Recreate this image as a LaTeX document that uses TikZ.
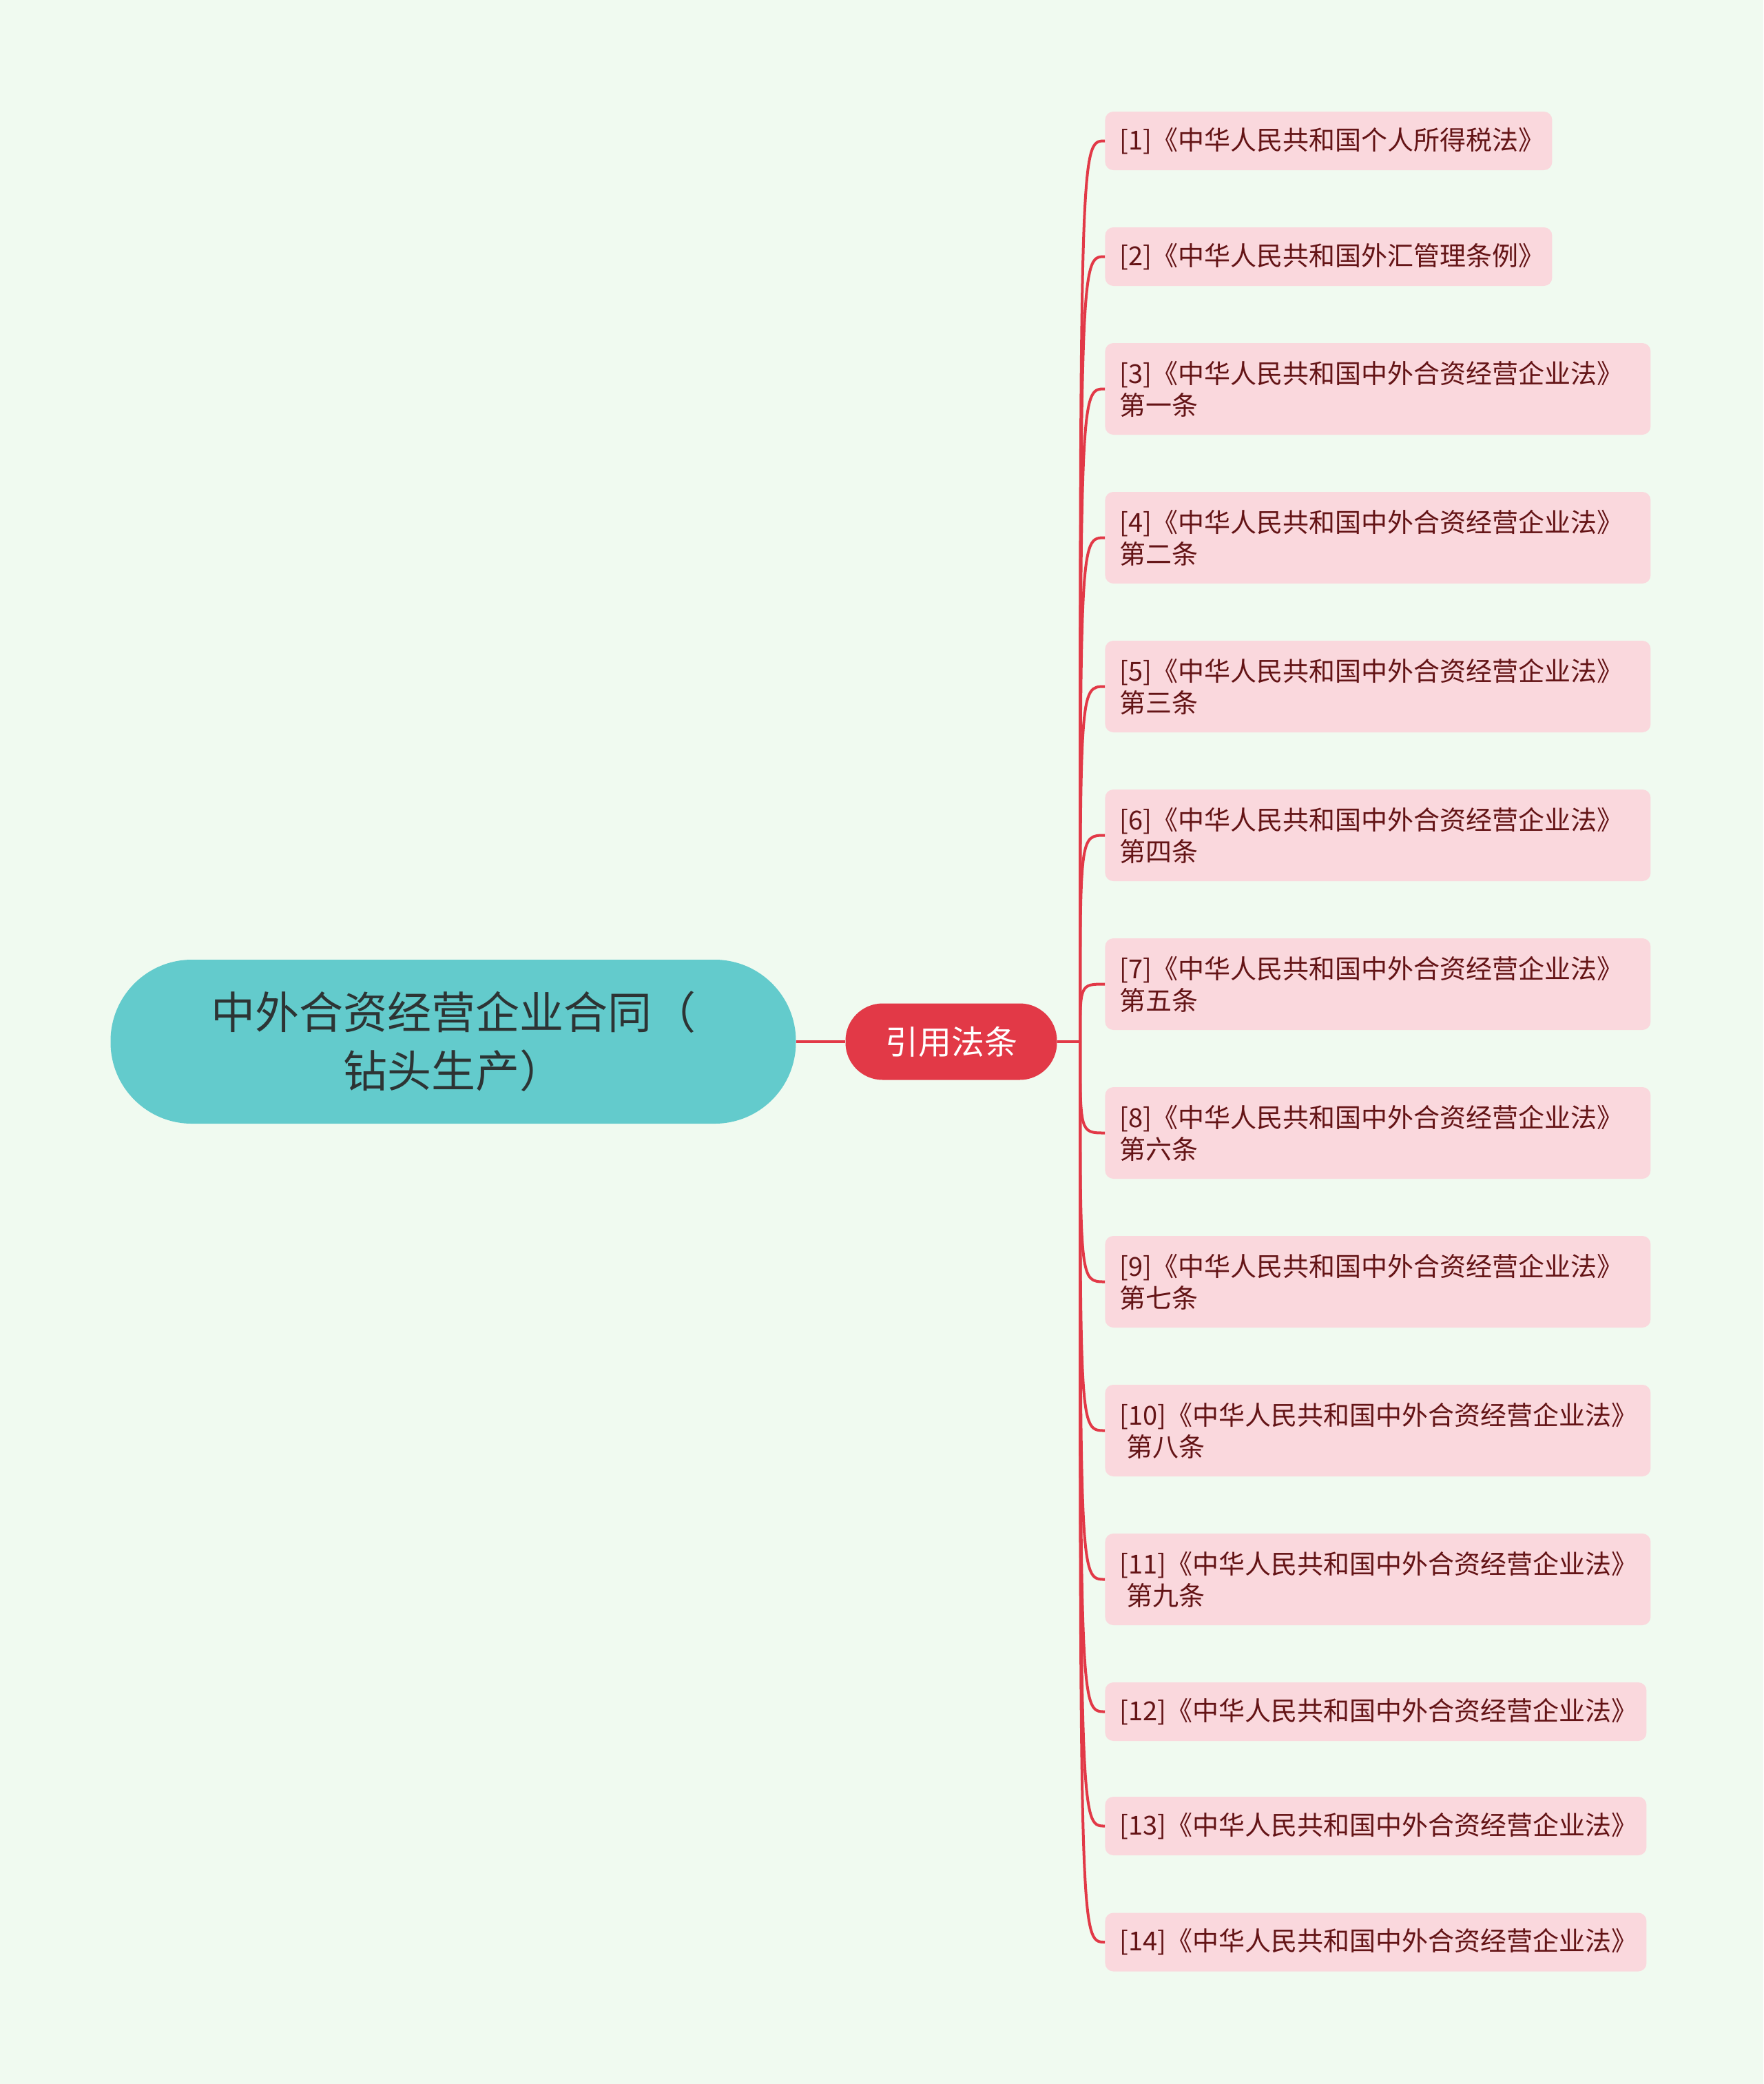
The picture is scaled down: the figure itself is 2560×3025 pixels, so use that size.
\documentclass[tikz,border=0pt]{standalone}
\usepackage{fontspec}
\setmainfont{Noto Sans CJK SC}
\usepackage{xcolor}
\usepackage{tikz}
\usetikzlibrary{positioning}

\definecolor{bgcol}{RGB}{240,250,240}
\definecolor{rootcol}{RGB}{99,203,204}
\definecolor{topiccol}{RGB}{226,57,71}
\definecolor{leafcol}{RGB}{250,216,221}
\definecolor{leaftext}{RGB}{100,20,22}
\definecolor{roottext}{RGB}{45,52,52}

\begin{document}
\begin{tikzpicture}[
        x=0.5pt, y=-0.5pt,
        wire/.style={
            draw=topiccol,
            line width=2pt
        },
        root/.style={
            fill=rootcol, rectangle,
            rounded corners=59pt,
            minimum width=497.5pt,
            minimum height=119pt,
            align=center,
            text=roottext,
            font=\fontsize{32}{42.5}\selectfont
        },
        topic/.style={
            fill=topiccol, rectangle,
            rounded corners=27pt,
            minimum width=153.5pt,
            minimum height=55.5pt,
            text=white,
            font=\fontsize{24}{28}\selectfont
        },
        leaf/.style={
            fill=leafcol, rectangle,
            rounded corners=6pt,
            anchor=west,
            inner xsep=10.5pt,
            inner ysep=2pt,
            align=left,
            text=leaftext,
            font=\fontsize{19}{23}\selectfont
        },
        short/.style={leaf, text width=303.5pt, minimum height=42.5pt},
        long/.style={leaf, text width=375pt, minimum height=66.5pt},
        single/.style={leaf, text width=372pt, minimum height=42.5pt},
    ]

    % background and page size
    \fill[bgcol] (0,0) rectangle (2560,3025);
    \useasboundingbox (0,0) rectangle (2560,3025);

    %============================================================
    % Root and topic
    %============================================================
    \node[root] (ROOT) at (658,1512) {中外合资经营企业合同（\\钻头生产）};
    \node[topic] (TOPIC) at (1381,1512) {引用法条};
    \coordinate (TRUNK) at (1568,1512);

    \draw[wire] (ROOT.east) -- (TOPIC.west);
    \draw[wire] (TOPIC.east) -- (TRUNK);

    %============================================================
    % Cited laws
    %============================================================
    \node[short] (LAW1) at (1604,204.5) {[1]《中华人民共和国个人所得税法》};
    \node[short] (LAW2) at (1604,372.5) {[2]《中华人民共和国外汇管理条例》};
    \node[long] (LAW3) at (1604,564.5) {[3]《中华人民共和国中外合资经营企业法》\\第一条};
    \node[long] (LAW4) at (1604,780.5) {[4]《中华人民共和国中外合资经营企业法》\\第二条};
    \node[long] (LAW5) at (1604,996.5) {[5]《中华人民共和国中外合资经营企业法》\\第三条};
    \node[long] (LAW6) at (1604,1212.5) {[6]《中华人民共和国中外合资经营企业法》\\第四条};
    \node[long] (LAW7) at (1604,1428.5) {[7]《中华人民共和国中外合资经营企业法》\\第五条};
    \node[long] (LAW8) at (1604,1644.5) {[8]《中华人民共和国中外合资经营企业法》\\第六条};
    \node[long] (LAW9) at (1604,1860.5) {[9]《中华人民共和国中外合资经营企业法》\\第七条};
    \node[long] (LAW10) at (1604,2076.5) {[10]《中华人民共和国中外合资经营企业法》\\\hspace*{0.27em}第八条};
    \node[long] (LAW11) at (1604,2292.5) {[11]《中华人民共和国中外合资经营企业法》\\\hspace*{0.27em}第九条};
    \node[single] (LAW12) at (1604,2484.5) {[12]《中华人民共和国中外合资经营企业法》};
    \node[single] (LAW13) at (1604,2650.5) {[13]《中华人民共和国中外合资经营企业法》};
    \node[single] (LAW14) at (1604,2819) {[14]《中华人民共和国中外合资经营企业法》};

    % Curved branches: trunk -> each law
    \foreach \i in {1,...,14}{
        \draw[wire] (TRUNK) .. controls (TRUNK |- LAW\i.west) .. (LAW\i.west);
    }

\end{tikzpicture}
\end{document}
